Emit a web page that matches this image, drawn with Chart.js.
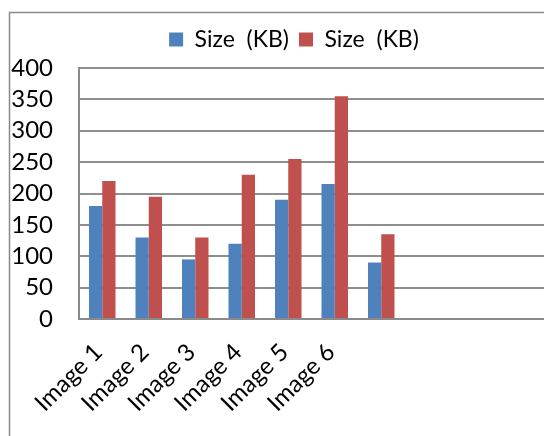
<!DOCTYPE html>
<html>
<head>
<meta charset="utf-8">
<script src="https://cdn.jsdelivr.net/npm/chart.js@4/dist/chart.umd.min.js"></script>
<style>
  html, body { margin: 0; padding: 0; background: #fff; overflow: hidden; }
  #wrap { width: 544px; height: 436px; position: relative; }
</style>
</head>
<body>
<div id="wrap"><canvas id="c" width="544" height="436"></canvas></div>
<script>
// Categories (last four slots are empty; the seventh has values but no name)
const categories = ['Image 1', 'Image 2', 'Image 3', 'Image 4', 'Image 5', 'Image 6', '', '', '', ''];
const seriesNames = ['Size  (KB)', 'Size  (KB)'];
const sizeA = [180, 130, 95, 120, 190, 215, 90, null, null, null];
const sizeB = [220, 195, 130, 230, 255, 355, 135, null, null, null];
const yTicks = [0, 50, 100, 150, 200, 250, 300, 350, 400];

const FONT = 'Lato, "Open Sans", sans-serif';

// Frame around the chart (left and top edges visible)
const framePlugin = {
  id: 'frame',
  beforeDraw(chart) {
    const ctx = chart.ctx;
    ctx.save();
    ctx.strokeStyle = '#8a8a8a';
    ctx.lineWidth = 1.5;
    ctx.beginPath();
    ctx.moveTo(9.5, 436);
    ctx.lineTo(9.5, 12.5);
    ctx.lineTo(544, 12.5);
    ctx.stroke();
    ctx.restore();
  }
};

// Centre the legend over the plot region and lift it slightly
const legendShift = {
  id: 'legendShift',
  afterLayout(chart) {
    const lg = chart.legend;
    if (!lg) return;
    const dx = 22, dy = -7;
    lg.left += dx; lg.right += dx;
    lg.top += dy; lg.bottom += dy;
  }
};

new Chart(document.getElementById('c'), {
  type: 'bar',
  data: {
    labels: categories,
    datasets: [
      { label: seriesNames[0], data: sizeA, backgroundColor: '#4F81BD', borderWidth: 0 },
      { label: seriesNames[1], data: sizeB, backgroundColor: '#C0504D', borderWidth: 0 }
    ]
  },
  options: {
    responsive: false,
    animation: false,
    devicePixelRatio: 1,
    layout: { padding: { left: 0, top: 25, right: 0, bottom: 0 } },
    datasets: { bar: { categoryPercentage: 0.57, barPercentage: 1.0 } },
    plugins: {
      tooltip: { enabled: false },
      legend: {
        position: 'top',
        align: 'center',
        labels: {
          boxWidth: 14,
          boxHeight: 14,
          padding: 10,
          color: '#000',
          font: { family: FONT, size: 23 }
        }
      }
    },
    scales: {
      x: {
        grid: { display: false, drawTicks: false },
        border: { display: true, color: '#8a8a8a', width: 2 },
        ticks: {
          color: '#000',
          font: { family: FONT, size: 24 },
          minRotation: 45,
          maxRotation: 45,
          autoSkip: false,
          padding: 19,
          labelOffset: -4
        },
        afterFit(scale) {
          scale.height = 117;
          scale.paddingLeft = 0;
          scale.paddingRight = 0;
        }
      },
      y: {
        min: 0,
        max: 400,
        afterBuildTicks(scale) { scale.ticks = yTicks.map(v => ({ value: v })); },
        grid: { color: '#8e8e8e', lineWidth: 2, drawTicks: false },
        border: { display: true, color: '#8a8a8a', width: 2 },
        ticks: {
          color: '#000',
          font: { family: FONT, size: 24 },
          padding: 26,
          autoSkip: false
        },
        afterFit(scale) { scale.width = 79; }
      }
    }
  },
  plugins: [framePlugin, legendShift]
});
</script>
</body>
</html>
